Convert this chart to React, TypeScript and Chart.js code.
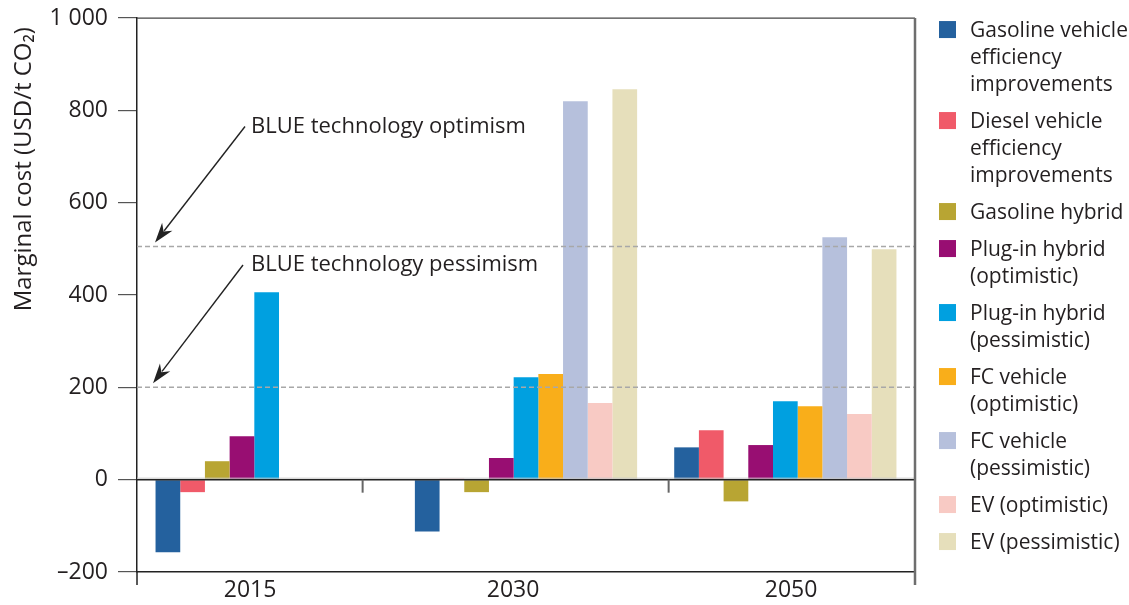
import React, { useEffect, useRef } from "react";
import { Chart, registerables } from "chart.js";

Chart.register(...registerables);

// ---------- data ----------
const categories = ["2015", "2030", "2050"];

const seriesNames = [
  "Gasoline vehicle efficiency improvements",
  "Diesel vehicle efficiency improvements",
  "Gasoline hybrid",
  "Plug-in hybrid (optimistic)",
  "Plug-in hybrid (pessimistic)",
  "FC vehicle (optimistic)",
  "FC vehicle (pessimistic)",
  "EV (optimistic)",
  "EV (pessimistic)",
];

const legendLines = [
  ["Gasoline vehicle", "efficiency", "improvements"],
  ["Diesel vehicle", "efficiency", "improvements"],
  ["Gasoline hybrid"],
  ["Plug-in hybrid", "(optimistic)"],
  ["Plug-in hybrid", "(pessimistic)"],
  ["FC vehicle", "(optimistic)"],
  ["FC vehicle", "(pessimistic)"],
  ["EV (optimistic)"],
  ["EV (pessimistic)"],
];

const gasolineEfficiency = [-157, -112, 70];
const dieselEfficiency = [-27, 2, 107];
const gasolineHybrid = [40, -27, -47];
const plugInOptimistic = [94, 47, 75];
const plugInPessimistic = [406, 222, 170];
const fcOptimistic = [null, 229, 159];
const fcPessimistic = [null, 820, 525];
const evOptimistic = [null, 166, 142];
const evPessimistic = [null, 846, 499];

const seriesValues = [
  gasolineEfficiency,
  dieselEfficiency,
  gasolineHybrid,
  plugInOptimistic,
  plugInPessimistic,
  fcOptimistic,
  fcPessimistic,
  evOptimistic,
  evPessimistic,
];

const seriesColors = [
  "#24619e",
  "#f05a69",
  "#b8a533",
  "#980e72",
  "#00a0e0",
  "#f9ae1a",
  "#b6c0dc",
  "#f8cac4",
  "#e6dfbb",
];

const yMin = -200;
const yMax = 1000;
const yStep = 200;

const blueOptimismLevel = 505;
const bluePessimismLevel = 200;
const annotationTexts = ["BLUE technology optimism", "BLUE technology pessimism"];

const yTitle = "Marginal cost (USD/t CO\u2082)";

// ---------- styles ----------
const FONT = "'Open Sans', sans-serif";
const TEXT = "#231f20";
const xLabelShift = [-0.064, -0.05, 0.022]; // fraction of a category, label placement only

function formatTick(v: number): string {
  const abs = Math.abs(v);
  const s = abs >= 1000 ? `${Math.floor(abs / 1000)} ${String(abs % 1000).padStart(3, "0")}` : String(abs);
  return v < 0 ? "\u2013" + s : s;
}

const decorPlugin = {
  id: "decor",
  afterDatasetsDraw(chart: any) {
    const { ctx, chartArea: ca, scales } = chart;
    const y = scales.y;
    const x = scales.x;
    ctx.save();
    // dashed reference lines
    ctx.strokeStyle = "#a8a8a8";
    ctx.lineWidth = 1.5;
    ctx.setLineDash([5, 3]);
    [blueOptimismLevel, bluePessimismLevel].forEach((v) => {
      const py = y.getPixelForValue(v);
      ctx.beginPath();
      ctx.moveTo(ca.left, py);
      ctx.lineTo(ca.right, py);
      ctx.stroke();
    });
    ctx.setLineDash([]);
    // zero line
    const y0 = y.getPixelForValue(0);
    ctx.strokeStyle = "#c8c8c8";
    ctx.lineWidth = 1;
    ctx.beginPath();
    ctx.moveTo(ca.left, y0 - 1.5);
    ctx.lineTo(ca.right, y0 - 1.5);
    ctx.stroke();
    ctx.strokeStyle = "#222";
    ctx.lineWidth = 1.6;
    ctx.beginPath();
    ctx.moveTo(ca.left, y0);
    ctx.lineTo(ca.right, y0);
    ctx.stroke();
    // small separators on zero line
    ctx.strokeStyle = "#666";
    ctx.lineWidth = 2;
    [0.37, 1.55].forEach((i) => {
      const px = x.getPixelForValue(i);
      ctx.beginPath();
      ctx.moveTo(px, y0);
      ctx.lineTo(px, y0 + 13);
      ctx.stroke();
    });
    ctx.restore();
  },
  afterDraw(chart: any) {
    const { ctx, chartArea: ca, scales } = chart;
    const y = scales.y;
    const x = scales.x;
    ctx.save();
    // frame
    ctx.strokeStyle = "#444";
    ctx.lineWidth = 1.2;
    ctx.beginPath();
    ctx.moveTo(ca.left, ca.top);
    ctx.lineTo(ca.right, ca.top);
    ctx.stroke();
    ctx.strokeStyle = "#6e6e6e";
    ctx.lineWidth = 2.5;
    ctx.beginPath();
    ctx.moveTo(ca.right, ca.top);
    ctx.lineTo(ca.right, ca.bottom + 13);
    ctx.stroke();
    ctx.strokeStyle = "#222";
    ctx.lineWidth = 1.5;
    ctx.beginPath();
    ctx.moveTo(ca.left, ca.bottom);
    ctx.lineTo(ca.left, ca.bottom + 13);
    ctx.stroke();

    // x category labels
    ctx.fillStyle = TEXT;
    ctx.font = `23px ${FONT}`;
    ctx.textAlign = "center";
    ctx.textBaseline = "middle";
    categories.forEach((c, i) => {
      ctx.fillText(c, x.getPixelForValue(i + xLabelShift[i]), ca.bottom + 18);
    });

    // y axis title
    ctx.save();
    ctx.translate(24, ca.top + 9);
    ctx.rotate(-Math.PI / 2);
    ctx.font = `24px ${FONT}`;
    ctx.textAlign = "right";
    ctx.textBaseline = "middle";
    ctx.fillStyle = TEXT;
    ctx.fillText(yTitle, 0, 0);
    ctx.restore();

    // annotations: arrows + labels
    const arrows = [
      { tipX: ca.left + 18, tipY: y.getPixelForValue(blueOptimismLevel) - 4, tailX: ca.left + 108, tailY: y.getPixelForValue(765), textY: y.getPixelForValue(751) },
      { tipX: ca.left + 16, tipY: y.getPixelForValue(bluePessimismLevel) - 4, tailX: ca.left + 106, tailY: y.getPixelForValue(465), textY: y.getPixelForValue(451) },
    ];
    arrows.forEach((a, i) => {
      const ang = Math.atan2(a.tipY - a.tailY, a.tipX - a.tailX);
      const len = 20;
      const hw = 6.5;
      const bx = a.tipX - Math.cos(ang) * len;
      const by = a.tipY - Math.sin(ang) * len;
      ctx.strokeStyle = "#222";
      ctx.lineWidth = 1.4;
      ctx.beginPath();
      ctx.moveTo(a.tailX, a.tailY);
      ctx.lineTo(bx + Math.cos(ang) * 5, by + Math.sin(ang) * 5);
      ctx.stroke();
      ctx.fillStyle = "#222";
      ctx.beginPath();
      ctx.moveTo(a.tipX, a.tipY);
      ctx.lineTo(bx - Math.sin(ang) * hw, by + Math.cos(ang) * hw);
      ctx.lineTo(bx + Math.cos(ang) * 6, by + Math.sin(ang) * 6);
      ctx.lineTo(bx + Math.sin(ang) * hw, by - Math.cos(ang) * hw);
      ctx.closePath();
      ctx.fill();
      ctx.fillStyle = TEXT;
      ctx.font = `22px ${FONT}`;
      ctx.textAlign = "left";
      ctx.textBaseline = "alphabetic";
      ctx.fillText(annotationTexts[i], ca.left + 114, a.textY);
    });

    // legend
    const lineH = 27;
    const gap = 10;
    let cy = ca.top + 11.5;
    const sqX = ca.right + 24;
    const txtX = ca.right + 55;
    ctx.font = `21px ${FONT}`;
    ctx.textAlign = "left";
    ctx.textBaseline = "middle";
    legendLines.forEach((lines, i) => {
      ctx.fillStyle = seriesColors[i];
      ctx.fillRect(sqX, cy - 8.5, 17, 17);
      ctx.fillStyle = TEXT;
      lines.forEach((ln, j) => {
        ctx.fillText(ln, txtX, cy + j * lineH + 1);
      });
      cy += lines.length * lineH + gap;
    });
    ctx.restore();
  },
};

export default function App() {
  const canvasRef = useRef<HTMLCanvasElement | null>(null);

  useEffect(() => {
    const canvas = canvasRef.current;
    if (!canvas) return;
    const chart = new Chart(canvas, {
      type: "bar",
      data: {
        labels: categories,
        datasets: seriesNames.map((name, i) => ({
          label: name,
          data: seriesValues[i] as any,
          backgroundColor: seriesColors[i],
          borderWidth: 0,
          categoryPercentage: 0.857,
          barPercentage: 1.0,
        })),
      },
      options: {
        animation: false,
        responsive: false,
        maintainAspectRatio: false,
        layout: { padding: { left: 0, right: 214, top: 0, bottom: 0 } },
        plugins: {
          legend: { display: false },
          tooltip: { enabled: false },
          title: { display: false },
        },
        scales: {
          x: {
            grid: { display: false, drawTicks: false },
            border: { display: true, color: "#222", width: 1.5 },
            ticks: { color: "rgba(0,0,0,0)", font: { family: FONT, size: 21 }, padding: 6 },
            afterFit: (s: any) => {
              s.height = 33;
            },
          },
          y: {
            min: yMin,
            max: yMax,
            ticks: {
              stepSize: yStep,
              color: TEXT,
              font: { family: FONT, size: 23, lineHeight: 0.7 },
              padding: 10,
              callback: (v: any) => formatTick(Number(v)),
            },
            grid: { drawOnChartArea: false, drawTicks: true, tickLength: 19, color: "#555", lineWidth: 1.2 },
            border: { display: true, color: "#222", width: 1.5 },
            title: { display: false },
            afterFit: (s: any) => {
              s.width = 137;
            },
          },
        },
      },
      plugins: [decorPlugin],
    });
    return () => chart.destroy();
  }, []);

  return (
    <div style={{ position: "fixed", left: 0, top: 0, width: 1129, height: 605, background: "#fff" }}>
      <canvas ref={canvasRef} width={1129} height={605} style={{ width: 1129, height: 605, display: "block" }} />
    </div>
  );
}
